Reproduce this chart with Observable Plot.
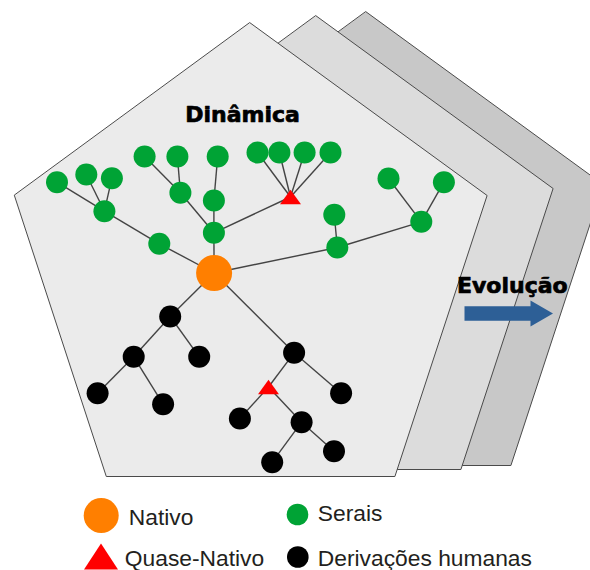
<!DOCTYPE html>
<html><head><meta charset="utf-8">
<script src="https://cdn.jsdelivr.net/npm/d3@7"></script>
<script src="https://cdn.jsdelivr.net/npm/@observablehq/plot@0.6"></script>
<style>html,body{margin:0;padding:0;background:#fff;overflow:hidden}</style>
</head><body><div id="chart"></div>
<script>
// ---- diagram data ----
const kinds = ["Nativo", "Quase-Nativo", "Serais", "Derivações humanas"];
const kindColors = ["#ff7f00", "#ff0000", "#00a335", "#000000"];

// front pentagon (the two layers behind it are shifted copies)
const pentX = [249.5, 486.6, 394.4, 105.8, 13.9];
const pentY = [22.3, 195, 476, 476, 195];
const layerDX = [116, 66, 0];
const layerDY = [-11, -7, 0];
const layerFill = ["#c8c8c8", "#dcdcdc", "#ebebeb"];

// tree nodes
const nodeIds = ["n0",
  "g1","g2","g3","g4","g5","g6","g7","g8","g9","g10","g11","t1",
  "g12","g13","g14","g15","g16","g17","g18","g19","g20",
  "b1","b2","b3","b4","b5","b6","t2","b7","b8","b9","b10","b11"];
const nodeX = [213.6,
  56.5, 85.8, 111.4, 103.9, 158.8, 144.1, 176.9, 179.9, 217.2, 213.4, 213.4, 290,
  257, 278.9, 304.1, 330, 333.8, 336.8, 388, 443.4, 420.8,
  169.7, 133.2, 198.7, 97.1, 162.6, 293.6, 268, 340.6, 239.4, 301.1, 271.7, 333.5];
const nodeY = [272.5,
  181.7, 174, 177.7, 210.7, 243.3, 156, 156, 192.3, 156, 200, 232.3, 196.5,
  152, 152, 152, 152, 214.3, 247, 178, 181.7, 221.3,
  316, 356.3, 356.3, 392.7, 403.7, 352.3, 386.5, 392.7, 418, 421.7, 461.7, 450.7];
const nodeKind = ["Nativo",
  "Serais","Serais","Serais","Serais","Serais","Serais","Serais","Serais","Serais","Serais","Serais","Quase-Nativo",
  "Serais","Serais","Serais","Serais","Serais","Serais","Serais","Serais","Serais",
  "Derivações humanas","Derivações humanas","Derivações humanas","Derivações humanas","Derivações humanas",
  "Derivações humanas","Quase-Nativo","Derivações humanas","Derivações humanas","Derivações humanas",
  "Derivações humanas","Derivações humanas"];
const nodeParent = [null,
  "g4","g4","g4","g5","n0","g8","g8","g11","g10","g11","n0","g11",
  "t1","t1","t1","t1","g17","n0","g20","g20","g17",
  "n0","b1","b1","b2","b2","n0","b6","b6","t2","t2","b9","b9"];

// labels
const titleText = "Dinâmica";
const evoText = "Evolução";
const evoArrow = [[464, 313], [552.5, 313]];

// legend
const legendKinds = ["Nativo", "Serais", "Quase-Nativo", "Derivações humanas"];
const legendSymX = [100.7, 297, 100.5, 297.3];
const legendSymY = [515, 514, 556, 556.5];
const legendTextX = [128.3, 317.3, 124.3, 317.3];
const legendTextY = [524.3, 520.7, 565, 565];

// ---- build ----
const nodes = nodeIds.map((id, i) => ({id, x: nodeX[i], y: nodeY[i], kind: nodeKind[i], parent: nodeParent[i]}));
const byId = new Map(nodes.map(d => [d.id, d]));
const edges = nodes.filter(d => d.parent).map(d => ({x1: byId.get(d.parent).x, y1: byId.get(d.parent).y, x2: d.x, y2: d.y}));

const layers = layerDX.map((dx, k) => pentX.map((x, i) => [x + dx, pentY[i] + layerDY[k]]));

function triSymbol(aspect) {
  return {draw(ctx, size) {
    const r = Math.sqrt(size / Math.PI), h = r * aspect;
    ctx.moveTo(0, -h); ctx.lineTo(r, h); ctx.lineTo(-r, h); ctx.closePath();
  }};
}

// block arrow polygon from start/end
const [[ax0, ay], [ax1]] = evoArrow;
const bodyHalf = 7.2, headHalf = 13, headLen = 22.5;
const arrowPoly = [[ax0, ay - bodyHalf], [ax1 - headLen, ay - bodyHalf], [ax1 - headLen, ay - headHalf], [ax1, ay],
  [ax1 - headLen, ay + headHalf], [ax1 - headLen, ay + bodyHalf], [ax0, ay + bodyHalf]];

const legend = legendKinds.map((k, i) => ({kind: k, sx: legendSymX[i], sy: legendSymY[i], tx: legendTextX[i], ty: legendTextY[i]}));

const chart = Plot.plot({
  width: 590, height: 570, margin: 0,
  x: {domain: [0, 590], range: [0, 590], axis: null},
  y: {domain: [0, 570], range: [0, 570], axis: null},
  color: {domain: kinds, range: kindColors},
  style: {background: "#fff", overflow: "hidden"},
  marks: [
    ...layers.map((pts, k) => Plot.line(pts, {curve: "linear-closed", fill: layerFill[k], stroke: "#4a4a4a", strokeWidth: 1, strokeLinejoin: "miter"})),
    Plot.link(edges, {x1: "x1", y1: "y1", x2: "x2", y2: "y2", stroke: "#444", strokeWidth: 1.4}),
    Plot.dot(nodes.filter(d => d.kind === "Serais" || d.kind === "Derivações humanas"), {x: "x", y: "y", r: 11, fill: "kind"}),
    Plot.dot(nodes.filter(d => d.kind === "Nativo"), {x: "x", y: "y", r: 18, fill: "kind"}),
    Plot.dot(nodes.filter(d => d.kind === "Quase-Nativo"), {x: "x", y: "y", r: 10.5, fill: "kind", symbol: triSymbol(0.69)}),
    Plot.text([titleText], {x: 242, y: 121.7, text: d => d, fontFamily: "DejaVu Sans", fontWeight: "bold", fontSize: 22, fill: "#000", stroke: "#000", strokeWidth: 0.7, textAnchor: "middle", lineAnchor: "bottom"}),
    Plot.line(arrowPoly, {curve: "linear-closed", fill: "#2d5f96", stroke: "none"}),
    Plot.text([evoText], {x: 456.5, y: 292.3, text: d => d, fontFamily: "DejaVu Sans", fontWeight: "bold", fontSize: 22, fill: "#000", stroke: "#000", strokeWidth: 0.7, textAnchor: "start", lineAnchor: "bottom"}),
    // legend
    Plot.dot(legend.filter(d => d.kind === "Nativo"), {x: "sx", y: "sy", r: 17.5, fill: "kind"}),
    Plot.dot(legend.filter(d => d.kind === "Serais" || d.kind === "Derivações humanas"), {x: "sx", y: "sy", r: 10.8, fill: "kind"}),
    Plot.dot(legend.filter(d => d.kind === "Quase-Nativo"), {x: "sx", y: "sy", r: 17, fill: "kind", symbol: triSymbol(0.76)}),
    Plot.text(legend, {x: "tx", y: "ty", text: "kind", fontFamily: "Liberation Sans", fontSize: 22.8, fill: "#231f20", textAnchor: "start", lineAnchor: "bottom"})
  ]
});
document.getElementById("chart").appendChild(chart);
</script>
</body></html>
